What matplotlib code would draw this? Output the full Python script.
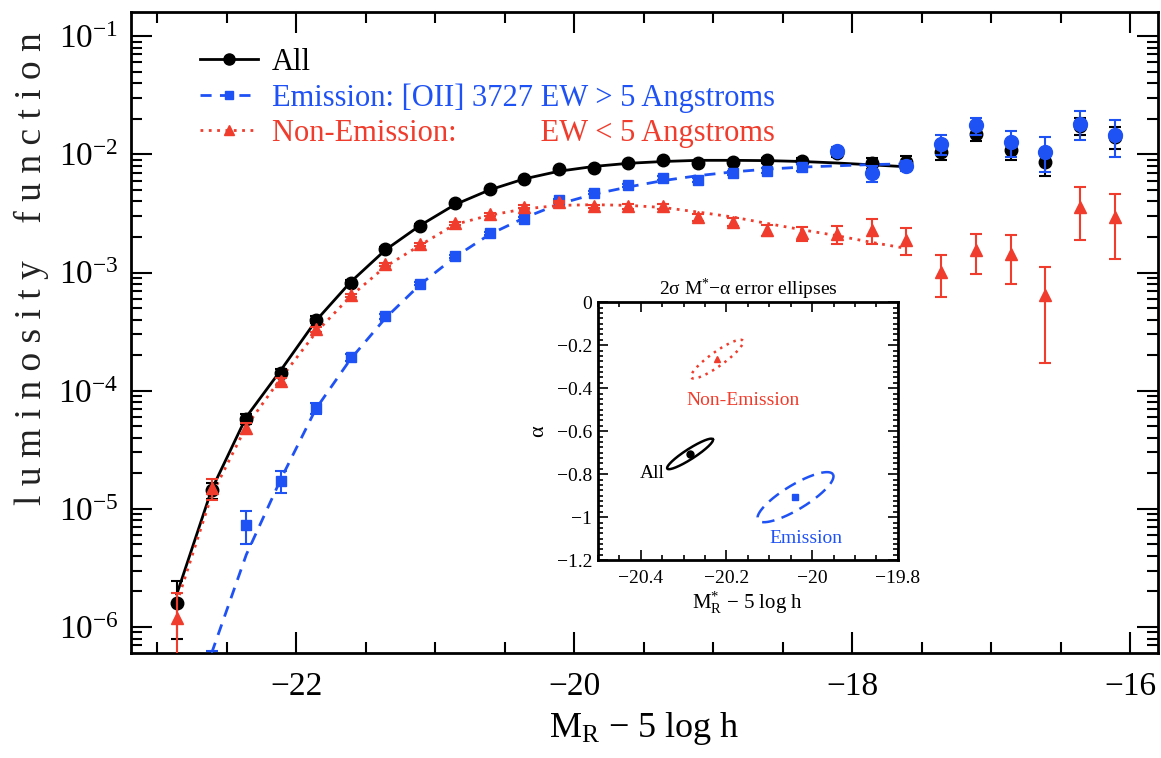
import numpy as np
import matplotlib.pyplot as plt
from matplotlib.lines import Line2D
from matplotlib.ticker import MultipleLocator, LogLocator, FuncFormatter, NullFormatter

plt.rcParams['font.family'] = 'Liberation Serif'
plt.rcParams['mathtext.fontset'] = 'custom'
plt.rcParams['mathtext.rm'] = 'Liberation Serif'
plt.rcParams['mathtext.it'] = 'Liberation Serif:italic'
plt.rcParams['mathtext.bf'] = 'Liberation Serif:bold'

BLUE = '#1f52f5'
RED = '#f03c2c'

# magnitude bin centres
mag = [-22.86, -22.61, -22.36, -22.11, -21.86, -21.61, -21.36, -21.11,
       -20.86, -20.61, -20.36, -20.11, -19.86, -19.61, -19.36, -19.11,
       -18.86, -18.61, -18.36, -18.11, -17.86, -17.61, -17.36, -17.11,
       -16.86, -16.61, -16.36, -16.11]

# all galaxies
phi_all = [1.61e-6, 1.44e-5, 5.8e-5, 1.42e-4, 4.0e-4, 8.2e-4, 1.57e-3, 2.49e-3,
           3.87e-3, 5.06e-3, 6.2e-3, 7.45e-3, 7.7e-3, 8.45e-3, 8.9e-3, 8.4e-3,
           8.6e-3, 8.9e-3, 8.8e-3, 1.02e-2, 8.4e-3, 8.6e-3, 1.05e-2, 1.5e-2,
           1.08e-2, 8.6e-3, 1.75e-2, 1.4e-2]
err_all = [0.82e-6, 2.2e-6, 6e-6, 1.2e-5, 2.5e-5, 4e-5, 6e-5, 8e-5,
           1e-4, 1.2e-4, 1.4e-4, 1.6e-4, 1.8e-4, 2.2e-4, 2.6e-4, 3e-4,
           3.5e-4, 4e-4, 5e-4, 7e-4, 9e-4, 1.1e-3, 1.5e-3, 2.0e-3,
           1.8e-3, 2.0e-3, 3.0e-3, 3.0e-3]

# emission-line galaxies (from the second bin on)
phi_em = [5.0e-7, 7.3e-6, 1.73e-5, 7.1e-5, 1.91e-4, 4.27e-4, 8.07e-4,
          1.37e-3, 2.14e-3, 2.86e-3, 4.1e-3, 4.75e-3, 5.47e-3, 6.3e-3, 6.1e-3,
          6.95e-3, 7.3e-3, 7.8e-3, 1.07e-2, 6.9e-3, 8.0e-3, 1.23e-2, 1.76e-2,
          1.27e-2, 1.05e-2, 1.82e-2, 1.45e-2]
err_em = [1.3e-7, 2.3e-6, 3.8e-6, 7e-6, 1.3e-5, 2e-5, 3e-5,
          4e-5, 5e-5, 7e-5, 1e-4, 1.2e-4, 1.5e-4, 2e-4, 2.5e-4,
          3e-4, 4e-4, 5e-4, 8e-4, 1.1e-3, 8e-4, 2.35e-3, 2.9e-3,
          3.2e-3, 3.4e-3, 5e-3, 5e-3]

# non-emission galaxies
phi_non = [1.19e-6, 1.5e-5, 4.8e-5, 1.2e-4, 3.3e-4, 6.43e-4, 1.17e-3, 1.73e-3,
           2.6e-3, 3.11e-3, 3.6e-3, 3.95e-3, 3.63e-3, 3.63e-3, 3.63e-3, 2.95e-3,
           2.68e-3, 2.28e-3, 2.14e-3, 2.1e-3, 2.3e-3, 1.9e-3, 1.01e-3, 1.55e-3,
           1.43e-3, 6.4e-4, 3.59e-3, 2.95e-3]
err_non = [0.75e-6, 3e-6, 5e-6, 8e-6, 1.5e-5, 2e-5, 3e-5, 4e-5,
           6e-5, 8e-5, 1e-4, 1e-4, 1.2e-4, 1.5e-4, 1.5e-4, 2e-4,
           2e-4, 2.5e-4, 2.8e-4, 3.6e-4, 5.5e-4, 4.9e-4, 3.85e-4, 5.8e-4,
           6.3e-4, 4.7e-4, 1.69e-3, 1.65e-3]

# Schechter fits, sampled at the bin centres of the fitted range
fit_all = [1.9e-6, 1.45e-5, 6.0e-5, 1.5e-4, 3.9e-4, 8.3e-4, 1.55e-3, 2.5e-3,
           3.75e-3, 5.0e-3, 6.2e-3, 7.2e-3, 7.9e-3, 8.4e-3, 8.7e-3, 8.9e-3,
           8.9e-3, 8.85e-3, 8.7e-3, 8.45e-3, 8.15e-3, 7.85e-3]
fit_em = [6.0e-7, 4.1e-6, 1.8e-5, 7.0e-5, 1.85e-4, 4.1e-4, 7.9e-4,
          1.35e-3, 2.1e-3, 2.9e-3, 3.8e-3, 4.6e-3, 5.3e-3, 6.0e-3, 6.6e-3,
          7.1e-3, 7.5e-3, 7.8e-3, 8.0e-3, 8.2e-3, 8.3e-3]
fit_non = [1.6e-6, 1.3e-5, 5.0e-5, 1.28e-4, 3.1e-4, 6.3e-4, 1.12e-3, 1.7e-3,
           2.55e-3, 3.05e-3, 3.45e-3, 3.7e-3, 3.75e-3, 3.7e-3, 3.55e-3, 3.25e-3,
           2.95e-3, 2.6e-3, 2.3e-3, 2.05e-3, 1.8e-3, 1.6e-3]

# 2-sigma error ellipses in the (M*, alpha) plane
ell_mstar = [-20.285, -20.222, -20.039]
ell_alpha = [-0.706, -0.265, -0.907]
ell_major = [(0.0532, 0.0682), (0.0602, 0.0861), (0.0875, 0.1059)]
ell_minor = [(-0.0063, 0.0198), (-0.0095, 0.0269), (-0.0144, 0.0485)]

fig = plt.figure(figsize=(11.61, 7.58), dpi=100)
ax = fig.add_axes([0.1128, 0.1385, 0.8846, 0.8456])

ax.plot(mag[:22], fit_all, color='black', lw=2, zorder=2)
ax.plot(mag[1:22], fit_em, color=BLUE, lw=2, ls=(0, (4, 3)), zorder=2)
ax.plot(mag[:22], fit_non, color=RED, lw=2, ls=(0, (1, 2)), zorder=2)

ax.errorbar(mag, phi_all, yerr=err_all, fmt='o', color='black', ms=9,
            capsize=4, elinewidth=1.5, capthick=1.5, zorder=3)
em_mag = np.array(mag[1:])
em_phi = np.array(phi_em)
em_err = np.array(err_em)
sq = em_mag < -18.2
ax.errorbar(em_mag[sq], em_phi[sq], yerr=em_err[sq], fmt='s', color=BLUE,
            ms=7, capsize=4, elinewidth=1.5, capthick=1.5, zorder=4)
ax.errorbar(em_mag[~sq], em_phi[~sq], yerr=em_err[~sq], fmt='o', color=BLUE,
            ms=10, capsize=4, elinewidth=1.5, capthick=1.5, zorder=4)
ax.errorbar(mag, phi_non, yerr=err_non, fmt='^', color=RED, ms=9,
            capsize=4, elinewidth=1.5, capthick=1.5, zorder=5)

ax.set_yscale('log')
ax.set_xlim(-23.19, -15.80)
ax.set_ylim(6.03e-7, 0.16)
ax.xaxis.set_major_locator(MultipleLocator(2))
ax.xaxis.set_minor_locator(MultipleLocator(0.5))
ax.yaxis.set_major_locator(LogLocator(base=10))
ax.yaxis.set_minor_locator(LogLocator(base=10, subs=np.arange(2, 10)))
ax.yaxis.set_minor_formatter(NullFormatter())
ax.tick_params(which='both', direction='in', top=True, right=True, width=1.5)
ax.tick_params(which='major', length=15, labelsize=24)
ax.tick_params(axis='x', which='major', pad=13)
ax.tick_params(axis='y', which='major', pad=9)
ax.tick_params(which='minor', length=8)
for s in ax.spines.values():
    s.set_linewidth(2)

ax.set_xlabel(r'$\mathrm{M_R}$ − 5 log h', fontsize=26, labelpad=6)
fig.text(0.027, 0.646, 'l u m i n o s i t y    f u n c t i o n', rotation=90,
         ha='center', va='center', fontsize=27, color='#222222')

handles = [
    Line2D([], [], color='black', lw=2, marker='o', ms=8),
    Line2D([], [], color=BLUE, lw=2, ls=(0, (4, 3)), marker='s', ms=6),
    Line2D([], [], color=RED, lw=2, ls=(0, (1, 2)), marker='^', ms=7),
]
labels = ['All',
          'Emission: [OII] 3727 EW > 5 Angstroms',
          'Non-Emission:' + ' ' * 11 + 'EW < 5 Angstroms']
ax.legend(handles, labels, loc='upper left', bbox_to_anchor=(0.067, 0.944),
          frameon=False, fontsize=22, numpoints=1, handlelength=1.9,
          handletextpad=0.45, labelspacing=0.2, borderpad=0, borderaxespad=0,
          labelcolor=['black', BLUE, RED])

# inset: error ellipses
axi = fig.add_axes([0.515, 0.261, 0.2584, 0.3404])
t = np.linspace(0, 2 * np.pi, 200)
styles = [dict(color='black', ls='-'),
          dict(color=RED, ls=(0, (1, 2))),
          dict(color=BLUE, ls=(0, (5, 3)))]
marks = ['o', '^', 's']
for i in range(3):
    ex = ell_mstar[i] + ell_major[i][0] * np.cos(t) + ell_minor[i][0] * np.sin(t)
    ey = ell_alpha[i] + ell_major[i][1] * np.cos(t) + ell_minor[i][1] * np.sin(t)
    axi.plot(ex, ey, lw=1.8, **styles[i])
    axi.plot(ell_mstar[i], ell_alpha[i], marker=marks[i], ms=5,
             color=styles[i]['color'], ls='none')

axi.text(-20.162, -0.456, 'Non-Emission', color=RED, fontsize=14,
         ha='center', va='center')
axi.text(-20.374, -0.795, 'All', color='black', fontsize=14,
         ha='center', va='center')
axi.text(-20.015, -1.101, 'Emission', color=BLUE, fontsize=14,
         ha='center', va='center')

axi.set_xlim(-20.5, -19.8)
axi.set_ylim(-1.2, 0)
axi.xaxis.set_major_locator(MultipleLocator(0.2))
axi.xaxis.set_minor_locator(MultipleLocator(0.05))
axi.yaxis.set_major_locator(MultipleLocator(0.2))
axi.yaxis.set_minor_locator(MultipleLocator(0.025))
fmt = FuncFormatter(lambda v, p: ('%g' % round(v, 2)).replace('-', '−'))
axi.xaxis.set_major_formatter(fmt)
axi.yaxis.set_major_formatter(fmt)
axi.tick_params(which='both', direction='in', top=True, right=True, width=1.2)
axi.tick_params(which='major', length=7, labelsize=14)
axi.tick_params(which='minor', length=3.5)
axi.tick_params(axis='x', which='major', pad=7)
axi.tick_params(axis='y', which='major', pad=4)
for s in axi.spines.values():
    s.set_linewidth(2)
axi.set_title(r'2σ M$^{*}$−α error ellipses', fontsize=14, pad=1)
axi.set_xlabel(r'$\mathrm{M}^{*}_{\mathrm{R}}$ − 5 log h', fontsize=15, labelpad=2)
axi.set_ylabel('α', fontsize=16, rotation=90, labelpad=6)

fig.savefig('out.png', dpi=100)
